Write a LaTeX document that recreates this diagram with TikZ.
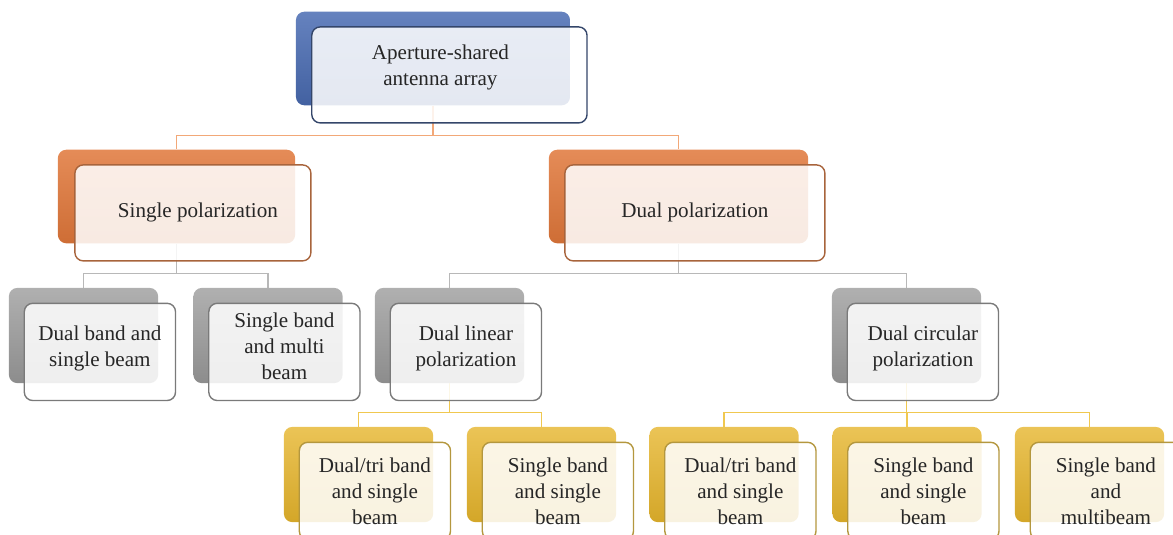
\documentclass[tikz,border=0pt]{standalone}
\usepackage{fontspec}
\setmainfont{Liberation Serif}
\usepackage{tikz}
\usetikzlibrary{positioning, calc, backgrounds}
\definecolor{blueB}{HTML}{4A6CB3}
\definecolor{blueD}{HTML}{34466A}
\definecolor{orangeB}{HTML}{E0773A}
\definecolor{orangeD}{HTML}{A8643C}
\definecolor{orangeL}{HTML}{F2A878}
\definecolor{grayB}{HTML}{9C9C9C}
\definecolor{grayD}{HTML}{7A7A7A}
\definecolor{grayL}{HTML}{B8B8B8}
\definecolor{yellB}{HTML}{E6B52C}
\definecolor{yellD}{HTML}{B4973E}
\definecolor{yellL}{HTML}{F0C850}
\tikzset{
  back/.style={rectangle, rounded corners=6pt, draw=none, inner sep=0pt,
               minimum height=2.34cm},
  front/.style={rectangle, rounded corners=6pt, draw, line width=1pt,
                fill=white, fill opacity=0.86, text opacity=1, inner sep=2pt,
                minimum height=2.4cm, font=\fontsize{15}{18.4}\selectfont,
                align=center, text=black!85},
  bkA/.style={back, top color=blueB!85!white, bottom color=blueB!90!black},
  bkB/.style={back, top color=orangeB!85!white, bottom color=orangeB!92!black},
  bkC/.style={back, top color=grayB!80!white, bottom color=grayB!90!black},
  bkD/.style={back, top color=yellB!80!white, bottom color=yellB!92!black},
  frA/.style={front, draw=blueD},
  frB/.style={front, draw=orangeD},
  frC/.style={front, draw=grayD},
  frD/.style={front, draw=yellD},
  offs/.style={xshift=0.41cm, yshift=-0.41cm},
  conn/.style={line width=1pt}
}
\begin{document}
\begin{tikzpicture}[x=0.025cm, y=-0.025cm]
  \useasboundingbox (0,0) rectangle (1173,534);
  % level 1
  \node[bkA, minimum width=6.85cm] (top-b) at (433,58.5) {};
  \node[frA, minimum width=6.88cm, text depth=14pt] (top) at ([offs]top-b.center)
    {Aperture-shared\hspace*{0.45cm}\\antenna array\hspace*{0.45cm}};
  % level 2
  \node[bkB, minimum width=5.93cm] (sp-b) at (176.5,196.5) {};
  \node[frB, minimum width=5.9cm] (sp) at ([offs]sp-b.center) {\hspace*{0.25cm}Single polarization};
  \node[bkB, minimum width=6.48cm] (dp-b) at (678.5,196.5) {};
  \node[frB, minimum width=6.5cm] (dp) at ([offs]dp-b.center) {Dual polarization};
  % level 3
  \begin{scope}[back/.append style={minimum width=3.73cm, minimum height=2.38cm},
                front/.append style={minimum width=3.78cm, minimum height=2.43cm}]
    \begin{scope}[front/.append style={text depth=8pt}]
      \node[bkC] (dbsb-b) at (83.5,335.5) {};
      \node[frC] (dbsb) at ([offs]dbsb-b.center) {Dual band and\\single beam};
      \node[bkC] (sbmb-b) at (268,335.5) {};
      \node[frC] (sbmb) at ([offs]sbmb-b.center) {Single band\\and multi\\beam};
      \node[bkC] (dlp-b) at (449.5,335.5) {};
      \node[frC] (dlp) at ([offs]dlp-b.center) {Dual linear\\polarization};
      \node[bkC] (dcp-b) at (906.5,335.5) {};
      \node[frC] (dcp) at ([offs]dcp-b.center) {Dual circular\\polarization};
    \end{scope}
    % level 4
    \node[bkD] (dt1-b) at (358.5,474.5) {};
    \node[frD] (dt1) at ([offs]dt1-b.center) {Dual/tri band\\and single\\beam};
    \node[bkD] (sb1-b) at (541.5,474.5) {};
    \node[frD] (sb1) at ([offs]sb1-b.center) {Single band\\and single\\beam};
    \node[bkD] (dt2-b) at (724,474.5) {};
    \node[frD] (dt2) at ([offs]dt2-b.center) {Dual/tri band\\and single\\beam};
    \node[bkD] (sb2-b) at (907,474.5) {};
    \node[frD] (sb2) at ([offs]sb2-b.center) {Single band\\and single\\beam};
    \node[bkD] (sbm-b) at (1089.5,474.5) {};
    \node[frD] (sbm) at ([offs]sbm-b.center) {Single band\\and\\multibeam};
  \end{scope}
  % connectors
  \begin{scope}[on background layer]
    \draw[conn, orangeL] (top-b.south) -- ++(0,30) -| (sp-b.north);
    \draw[conn, orangeL] (top-b.south) -- ++(0,30) -| (dp-b.north);
    \foreach \c in {dbsb-b, sbmb-b}
      \draw[conn, grayL] (sp-b.south) -- ++(0,30) -| (\c.north);
    \foreach \c in {dlp-b, dcp-b}
      \draw[conn, grayL] (dp-b.south) -- ++(0,30) -| (\c.north);
    \foreach \c in {dt1-b, sb1-b}
      \draw[conn, yellL] (dlp-b.south) -- ++(0,29) -| (\c.north);
    \foreach \c in {dt2-b, sb2-b, sbm-b}
      \draw[conn, yellL] (dcp-b.south) -- ++(0,29) -| (\c.north);
  \end{scope}
\end{tikzpicture}
\end{document}
